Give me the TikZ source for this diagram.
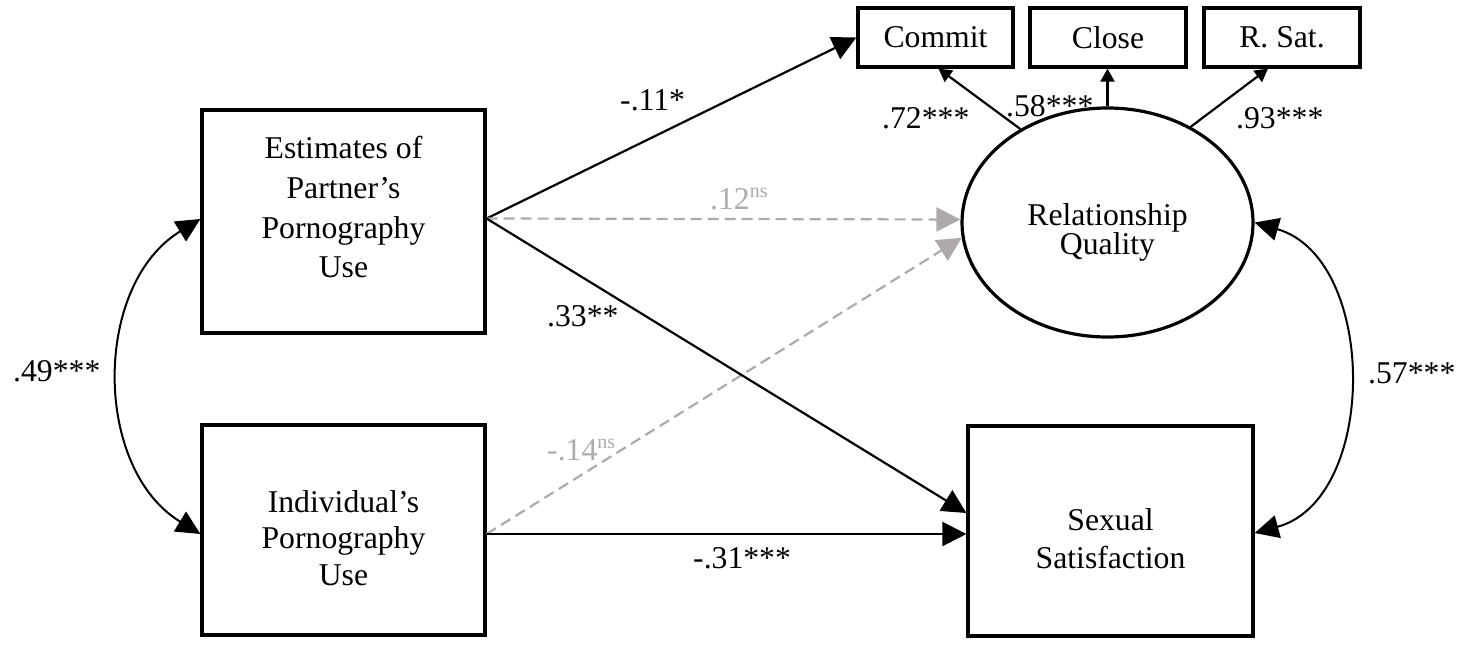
\documentclass[tikz,border=0pt]{standalone}
\usepackage{fontspec}
\setmainfont{Liberation Serif}
\usetikzlibrary{arrows.meta,shapes.geometric}
\definecolor{nsgray}{HTML}{AEAAAA}
\newcommand{\nsup}{\raisebox{12pt}{\fontsize{20}{20}\selectfont ns}}
\begin{document}
\begin{tikzpicture}[x=1pt,y=-1pt,
  font=\fontsize{31.7}{38}\selectfont,
  box/.style={draw, line width=3.2pt, align=center, inner sep=0pt},
  oval/.style={draw, ellipse, line width=3.2pt, align=center, inner sep=0pt},
  arr/.style={line width=2.2pt, -{Triangle[length=24pt,width=24pt]}},
  sarr/.style={line width=2.2pt, -{Triangle[length=13pt,width=14pt]}},
  dbl/.style={line width=2pt, {Triangle[length=24pt,width=23pt]}-{Triangle[length=24pt,width=23pt]}},
  nsarr/.style={arr, nsgray, dash pattern=on 11pt off 6pt},
  lbl/.style={anchor=base west, inner sep=0pt},
  nslbl/.style={lbl, text=nsgray}
]
\useasboundingbox (0,0) rectangle (1461,649);

% nodes
\node[box, minimum width=283pt, minimum height=223pt, font=\fontsize{31.7}{39.7}\selectfont,
      text height=141.5pt, text depth=29pt] (est) at (343.5,221.5) {Estimates of\\Partner’s\\Pornography\\Use};
\node[box, minimum width=283pt, minimum height=210pt, font=\fontsize{31.7}{36.5}\selectfont,
      text height=110pt, text depth=0pt] (ind) at (343.5,530) {Individual’s\\Pornography\\Use};
\node[box, minimum width=285pt, minimum height=210pt, font=\fontsize{31.7}{38}\selectfont,
      text height=74pt, text depth=0pt] (sex) at (1110.5,531) {Sexual\\Satisfaction};
\node[oval, minimum width=291pt, minimum height=229pt, font=\fontsize{31.7}{29}\selectfont,
      text height=63pt, text depth=0pt] (rq) at (1107.5,222.5) {Relationship\\Quality};
\node[box, minimum width=155pt, minimum height=59pt] (commit) at (935.5,37.5) {Commit};
\node[box, minimum width=156pt, minimum height=59pt] (close) at (1108,37.5) {Close};
\node[box, minimum width=156pt, minimum height=59pt] (rsat) at (1282,37.5) {R. Sat.};

% structural paths
\draw[arr] ([yshift=3pt]est.east) -- (commit.west);
\draw[nsarr] ([yshift=3pt]est.east) -- ([yshift=3pt]rq.west);
\draw[nsarr] ([yshift=-4pt]ind.east) -- (rq.186);
\draw[arr] ([yshift=3pt]est.east) -- ([yshift=18pt]sex.west);
\draw[arr] ([yshift=-4pt]ind.east) -- ([yshift=-3pt]sex.west);

% covariances
\draw[dbl] ([yshift=2.5pt]est.west) .. controls (92.7,284.7) and (92.7,468.3) .. ([yshift=-4pt]ind.west);
\draw[dbl] (rq.east) .. controls (1378.3,258.6) and (1378.3,499.4) .. ([yshift=-2pt]sex.east);

% measurement model
\draw[sarr] (rq.133) -- ([xshift=3pt]commit.south);
\draw[sarr] (rq.north) -- (rq.north |- close.south);
\draw[sarr] (rq.49) -- ([xshift=-14pt]rsat.south);

% labels
\node[lbl] (l11) at (620,110) {-.11*};
\node[nslbl] (l12) at (710,209) {.12\nsup};
\node[lbl] (l33) at (547,326) {.33**};
\node[nslbl] (l14) at (547,460) {-.14\nsup};
\node[lbl] (l31) at (693,568) {-.31***};
\node[lbl] (l49) at (13,381) {.49***};
\node[lbl] (l57) at (1368,383) {.57***};
\node[lbl] (l72) at (882,128) {.72***};
\node[lbl] (l58) at (1006,116) {.58***};
\node[lbl] (l93) at (1236,128) {.93***};
\end{tikzpicture}
\end{document}
